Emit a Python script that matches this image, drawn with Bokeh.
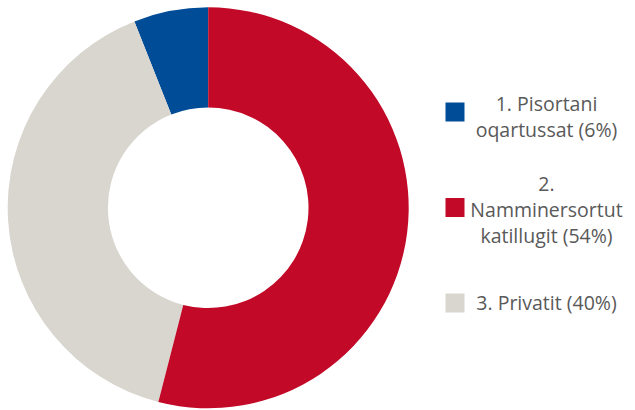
import math
from bokeh.plotting import figure
from bokeh.models import ColumnDataSource, Range1d
from bokeh.core.properties import value
from bokeh.embed import file_html
from bokeh.resources import INLINE

# ---- data ----
categories = ["1. Pisortani oqartussat", "2. Namminersortut katillugit", "3. Privatit"]
shares = [6, 54, 40]
colors = ["#004C97", "#C20A28", "#D9D5CF"]
legend_lines = [["1. Pisortani", "oqartussat (6%)"],
                ["2.", "Namminersortut", "katillugit (54%)"],
                ["3. Privatit (40%)"]]
# order in which slices run anticlockwise from 12 o'clock
draw_order = [0, 2, 1]

W, H = 635, 410
p = figure(width=W, height=H, output_backend="svg", toolbar_location=None,
           x_range=Range1d(0, W), y_range=Range1d(0, H), min_border=0)
p.axis.visible = False
p.grid.visible = False
p.outline_line_color = None
p.background_fill_color = "white"
p.border_fill_color = "white"

def py(page_y):
    return H - page_y

# donut geometry (screen pixels)
cx, cy = 207.7, py(207.3)
r_out, r_in = 200.5, 100.3

total = float(sum(shares))
starts, ends, cols = [], [], []
a = math.pi / 2
for i in draw_order:
    span = 2 * math.pi * shares[i] / total
    starts.append(a)
    ends.append(a + span)
    cols.append(colors[i])
    a += span

src = ColumnDataSource(dict(x=[cx] * len(starts), y=[cy] * len(starts),
                            start=starts, end=ends, color=cols))
p.annular_wedge(x="x", y="y", inner_radius=r_in, outer_radius=r_out,
                start_angle="start", end_angle="end", fill_color="color",
                line_color=None, direction="anticlock", source=src)

# legend
marker_y = [111.5, 207, 302.5]
first_line_y = [102.5, 183, 302]
line_gap = 26
mx, tx = 454.5, 546

msrc = ColumnDataSource(dict(x=[mx] * 3, y=[py(v) for v in marker_y], color=colors))
p.rect(x="x", y="y", width=19, height=19, fill_color="color", line_color=None, source=msrc)

lx, ly, lt = [], [], []
for k, lines in enumerate(legend_lines):
    for j, t in enumerate(lines):
        lx.append(tx)
        ly.append(py(first_line_y[k] + j * line_gap))
        lt.append(t)
tsrc = ColumnDataSource(dict(x=lx, y=ly, text=lt))
p.text(x="x", y="y", text="text", source=tsrc, text_align="center",
       text_baseline="middle", text_font=value("Open Sans"),
       text_font_size="19.5px", text_color="#595959")

open("out.html", "w").write(file_html(p, INLINE))
